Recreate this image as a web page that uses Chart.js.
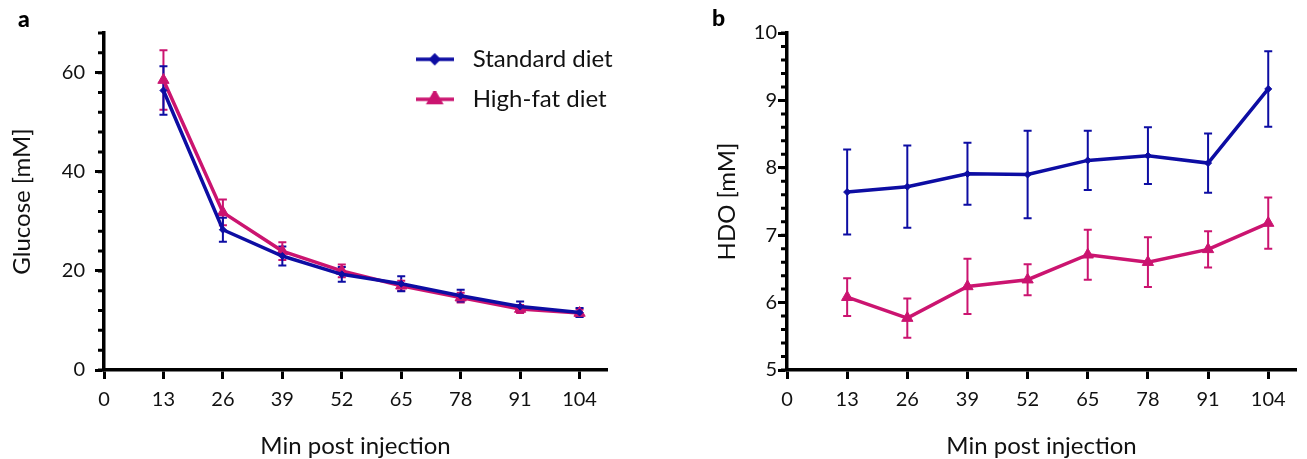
<!DOCTYPE html>
<html>
<head>
<meta charset="utf-8">
<script src="https://cdn.jsdelivr.net/npm/chart.js@4.4.1/dist/chart.umd.min.js"></script>
<style>
  html, body { margin: 0; padding: 0; background: #ffffff; }
  #wrap { position: relative; width: 1307px; height: 459px; overflow: hidden; background: #fff; }
  #ca { position: absolute; left: 0; top: 0; }
  #cb { position: absolute; left: 650px; top: 0; }
  .plabel { position: absolute; font-family: Lato, sans-serif; font-weight: 900; font-size: 23px; line-height: 23px; color: #000; }
</style>
</head>
<body>
<div id="wrap">
  <canvas id="ca" width="650" height="459"></canvas>
  <canvas id="cb" width="657" height="459"></canvas>
  <div class="plabel" style="left:18px; top:7px;">a</div>
  <div class="plabel" style="left:712px; top:6px;">b</div>
</div>
<script>
// ---------------- data ----------------
const minutes = [13, 26, 39, 52, 65, 78, 91, 104];
const xTickValues = [0, 13, 26, 39, 52, 65, 78, 91, 104];
const xTickLabels = ['0', '13', '26', '39', '52', '65', '78', '91', '104'];

const seriesNames = ['Standard diet', 'High-fat diet'];

const glucoseStandard    = [56.4, 28.3, 23.0, 19.3, 17.4, 15.0, 12.8, 11.6];
const glucoseStandardErr = [4.9, 2.4, 1.9, 1.5, 1.5, 1.2, 1.0, 0.9];
const glucoseHighFat     = [58.5, 31.8, 24.0, 20.0, 17.0, 14.6, 12.3, 11.5];
const glucoseHighFatErr  = [6.0, 2.6, 1.8, 1.3, 1.0, 1.0, 0.8, 0.7];
const glucoseTickValues  = [0, 20, 40, 60];
const glucoseTickLabels  = ['0', '20', '40', '60'];

const hdoStandard    = [7.64, 7.72, 7.91, 7.90, 8.11, 8.18, 8.07, 9.17];
const hdoStandardErr = [0.63, 0.61, 0.46, 0.65, 0.44, 0.42, 0.44, 0.56];
const hdoHighFat     = [6.08, 5.77, 6.24, 6.34, 6.71, 6.60, 6.79, 7.18];
const hdoHighFatErr  = [0.28, 0.29, 0.41, 0.23, 0.37, 0.37, 0.27, 0.38];
const hdoTickValues  = [5, 6, 7, 8, 9, 10];
const hdoTickLabels  = ['5', '6', '7', '8', '9', '10'];

// ---------------- styles ----------------
const BLUE = '#0d0da3';
const MAGENTA = '#cb1470';
const TEXT = '#111111';
Chart.defaults.font.family = 'Lato, "Open Sans", sans-serif';
Chart.defaults.color = TEXT;

function toXY(vals) { return minutes.map((m, i) => ({ x: m, y: vals[i] })); }

// error bars drawn through the chart's own y scale
const errorBarPlugin = {
  id: 'errorBars',
  beforeDatasetsDraw(chart) {
    const ctx = chart.ctx;
    const yScale = chart.scales.y;
    for (let i = chart.data.datasets.length - 1; i >= 0; i--) {
      const ds = chart.data.datasets[i];
      if (!ds.errors) continue;
      const meta = chart.getDatasetMeta(i);
      ctx.save();
      ctx.strokeStyle = ds.borderColor;
      ctx.lineWidth = 2;
      meta.data.forEach((pt, j) => {
        const v = ds.data[j].y, e = ds.errors[j];
        const yTop = yScale.getPixelForValue(v + e);
        const yBot = yScale.getPixelForValue(v - e);
        const x = pt.x;
        ctx.beginPath();
        ctx.moveTo(x, yTop); ctx.lineTo(x, yBot);
        ctx.moveTo(x - 4, yTop); ctx.lineTo(x + 4, yTop);
        ctx.moveTo(x - 4, yBot); ctx.lineTo(x + 4, yBot);
        ctx.stroke();
      });
      ctx.restore();
    }
  }
};

// minor ticks on the y axis
const minorTickPlugin = {
  id: 'minorTicks',
  afterDraw(chart, args, opts) {
    if (!opts || !opts.step) return;
    const s = chart.scales.y;
    const ctx = chart.ctx;
    const x0 = chart.chartArea.left;
    ctx.save();
    ctx.strokeStyle = '#000';
    ctx.lineWidth = opts.width || 2.5;
    ctx.beginPath();
    const n = Math.round((s.max - s.min) / opts.step);
    for (let k = 0; k <= n; k++) {
      const v = s.min + k * opts.step;
      const y = s.getPixelForValue(v);
      ctx.moveTo(x0 - opts.length, y);
      ctx.lineTo(x0, y);
    }
    ctx.stroke();
    ctx.restore();
  }
};

// place the legend inside the chart area
const legendPlacePlugin = {
  id: 'legendPlace',
  afterLayout(chart, args, opts) {
    if (!opts || opts.left === undefined || !chart.legend) return;
    const lg = chart.legend;
    lg.left = opts.left;
    lg.top = opts.top;
    lg.right = chart.width;
    lg.bottom = chart.chartArea.bottom;
    lg.width = lg.right - lg.left;
    lg.height = lg.bottom - lg.top;
  }
};

function legendIcon(color, style, radius) {
  const c = document.createElement('canvas');
  c.width = 38; c.height = 16;
  const g = c.getContext('2d');
  g.strokeStyle = color;
  g.lineWidth = 3.5;
  g.beginPath(); g.moveTo(0, 8); g.lineTo(38, 8); g.stroke();
  if (Chart.helpers && Chart.helpers.drawPoint) {
    g.fillStyle = color;
    Chart.helpers.drawPoint(g, { pointStyle: style, radius: radius, borderWidth: 1, rotation: 0 }, 19, 8);
    g.fill();
    g.stroke();
  }
  return c;
}

function lineDataset(label, vals, errs, color, style, radius) {
  return {
    label: label,
    data: toXY(vals),
    errors: errs,
    borderColor: color,
    backgroundColor: color,
    borderWidth: 3.5,
    pointStyle: style,
    pointRadius: radius,
    pointBorderWidth: 1,
    pointBackgroundColor: color,
    pointBorderColor: color,
    tension: 0,
    clip: false
  };
}

function makeChart(canvasId, cfg) {
  return new Chart(document.getElementById(canvasId), {
    type: 'line',
    data: {
      datasets: [
        lineDataset(seriesNames[0], cfg.std, cfg.stdErr, BLUE, 'rectRot', 3.5),
        lineDataset(seriesNames[1], cfg.hf, cfg.hfErr, MAGENTA, 'triangle', 6.5)
      ]
    },
    options: {
      responsive: false,
      animation: false,
      events: [],
      layout: { padding: { top: 33, right: cfg.padRight, left: 0, bottom: 0 } },
      scales: {
        x: {
          type: 'linear',
          min: 0, max: 110,
          afterBuildTicks: s => { s.ticks = xTickValues.map(v => ({ value: v })); },
          afterFit: s => { s.height = 89; },
          ticks: {
            autoSkip: false, maxRotation: 0, padding: 9,
            font: { size: 20 }, color: TEXT,
            callback: (v, i) => xTickLabels[i]
          },
          grid: { display: true, drawOnChartArea: false, drawTicks: true, tickLength: 9, tickWidth: 3, tickColor: '#000' },
          border: { display: true, color: '#000', width: 3.5 },
          title: { display: true, text: 'Min post injection', font: { size: 24, lineHeight: 1.1 }, color: TEXT, padding: { top: 0, bottom: 0 } }
        },
        y: {
          type: 'linear',
          min: cfg.yMin, max: cfg.yMax,
          afterBuildTicks: s => { s.ticks = cfg.yTicks.map(v => ({ value: v })); },
          afterFit: s => { s.width = cfg.yWidth; },
          ticks: {
            padding: cfg.yTickPad,
            font: { size: 20 }, color: TEXT,
            callback: (v, i) => cfg.yLabels[i]
          },
          grid: { display: true, drawOnChartArea: false, drawTicks: true, tickLength: 9, tickWidth: 3, tickColor: '#000' },
          border: { display: true, color: '#000', width: 3.5 },
          title: { display: true, text: cfg.yTitle, font: { size: 24, lineHeight: 1.2 }, color: TEXT, padding: { top: cfg.yTitlePad, bottom: 0 } }
        }
      },
      plugins: {
        tooltip: { enabled: false },
        minorTicks: { step: cfg.minorStep, length: 6, width: 3 },
        legendPlace: cfg.legend ? { left: 392.7, top: 31.3 } : {},
        legend: cfg.legend ? {
          display: true,
          position: 'chartArea',
          align: 'start',
          labels: {
            usePointStyle: true,
            pointStyleWidth: 52,
            padding: 16,
            font: { size: 24 },
            color: TEXT,
            generateLabels: chart => {
              const items = Chart.defaults.plugins.legend.labels.generateLabels(chart);
              items.forEach((it, i) => {
                it.pointStyle = i === 0 ? legendIcon(BLUE, 'rectRot', 3.5) : legendIcon(MAGENTA, 'triangle', 6.5);
              });
              return items;
            }
          }
        } : { display: false }
      }
    },
    plugins: [errorBarPlugin, minorTickPlugin, legendPlacePlugin]
  });
}

makeChart('ca', {
  std: glucoseStandard, stdErr: glucoseStandardErr,
  hf: glucoseHighFat, hfErr: glucoseHighFatErr,
  yMin: 0, yMax: 68, yTicks: glucoseTickValues, yLabels: glucoseTickLabels,
  yTitle: 'Glucose [mM]', yTitlePad: 8, yWidth: 104, yTickPad: 10,
  padRight: 43, minorStep: 4, legend: true
});

makeChart('cb', {
  std: hdoStandard, stdErr: hdoStandardErr,
  hf: hdoHighFat, hfErr: hdoHighFatErr,
  yMin: 5, yMax: 10, yTicks: hdoTickValues, yLabels: hdoTickLabels,
  yTitle: 'HDO [mM]', yTitlePad: 63, yWidth: 137, yTickPad: 1,
  padRight: 11, minorStep: 0.2, legend: false
});
</script>
</body>
</html>
